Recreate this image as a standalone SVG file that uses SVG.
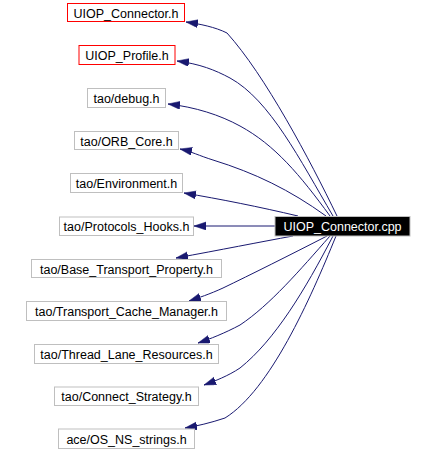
<svg xmlns="http://www.w3.org/2000/svg" width="433" height="451" viewBox="0 0 433 451">
<style>
  .n rect { fill: #ffffff; stroke: #bfbfbf; stroke-width: 1; }
  .n.red rect { stroke: #ff0000; }
  .n text { font-family: "Liberation Sans", Arial, sans-serif; font-size: 12.5px; fill: #000000; text-anchor: middle; }
  #main rect { fill: #000000; stroke: #bfbfbf; }
  #main text { fill: #ffffff; }
  .e path { fill: none; stroke: #191970; stroke-width: 1; marker-end: url(#arr); }
</style>
<defs>
  <marker id="arr" markerUnits="userSpaceOnUse" markerWidth="13" markerHeight="9" refX="12" refY="4" orient="auto">
    <path d="M0,0 L12,4 L0,8 z" fill="#191970" stroke="#191970" stroke-width="0.5"/>
  </marker>
</defs>
<rect width="433" height="451" fill="#ffffff"/>
<g id="edges" class="e">
  <path d="M337,216 C310,160 265,75 227,33 C215,27 200,24 186,22"/>
  <path d="M333,216 C300,160 270,100 230,78 C215,70 200,64 177,61"/>
  <path d="M330,216 C300,175 275,145 240,126 C220,115 195,107 168,104"/>
  <path d="M326,216 C290,190 255,173 213,160 C200,156 190,151 180,149"/>
  <path d="M298,216 C260,207 220,199 184,193"/>
  <path d="M275,226 L194,226"/>
  <path d="M293,236 C260,242 220,250 176,258"/>
  <path d="M327,236 C290,255 250,275 223,288 C210,294 198,298 189,301"/>
  <path d="M330,236 C300,270 270,305 240,325 C225,333 210,339 198,343"/>
  <path d="M333,236 C305,290 275,340 240,368 C228,376 215,381 204,385"/>
  <path d="M336,236 C310,300 270,390 225,418 C210,423 197,426 185,428"/>
</g>
<g id="n_uiop_connector_h" class="n red"><rect x="67.5" y="3.5" width="117" height="18"/><text x="126" y="17.5">UIOP_Connector.h</text></g>
<g id="n_uiop_profile_h" class="n red"><rect x="79" y="45.5" width="96" height="19"/><text x="127" y="60">UIOP_Profile.h</text></g>
<g id="n_debug_h" class="n"><rect x="87.5" y="88.5" width="78" height="19"/><text x="126.5" y="103">tao/debug.h</text></g>
<g id="n_orb_core_h" class="n"><rect x="74.5" y="131.5" width="104" height="18"/><text x="126.5" y="145.5">tao/ORB_Core.h</text></g>
<g id="n_environment_h" class="n"><rect x="70.5" y="173.5" width="112" height="19"/><text x="126.5" y="188">tao/Environment.h</text></g>
<g id="n_protocols_hooks_h" class="n"><rect x="59.5" y="217" width="134" height="18.5"/><text x="126.5" y="231">tao/Protocols_Hooks.h</text></g>
<g id="n_base_transport_property_h" class="n"><rect x="31.5" y="259.5" width="190" height="18"/><text x="126.5" y="273.5">tao/Base_Transport_Property.h</text></g>
<g id="n_transport_cache_manager_h" class="n"><rect x="26.5" y="301.5" width="200" height="19"/><text x="126.5" y="316">tao/Transport_Cache_Manager.h</text></g>
<g id="n_thread_lane_resources_h" class="n"><rect x="34.5" y="344.5" width="184" height="19"/><text x="126.5" y="359">tao/Thread_Lane_Resources.h</text></g>
<g id="n_connect_strategy_h" class="n"><rect x="54.5" y="387" width="144" height="18.5"/><text x="126.5" y="401">tao/Connect_Strategy.h</text></g>
<g id="n_os_ns_strings_h" class="n"><rect x="58.5" y="429" width="136" height="19.5"/><text x="126.5" y="443.5">ace/OS_NS_strings.h</text></g>
<g id="main" class="n"><rect x="275" y="216.5" width="135" height="19.5"/><text x="342.5" y="231">UIOP_Connector.cpp</text></g>
</svg>
